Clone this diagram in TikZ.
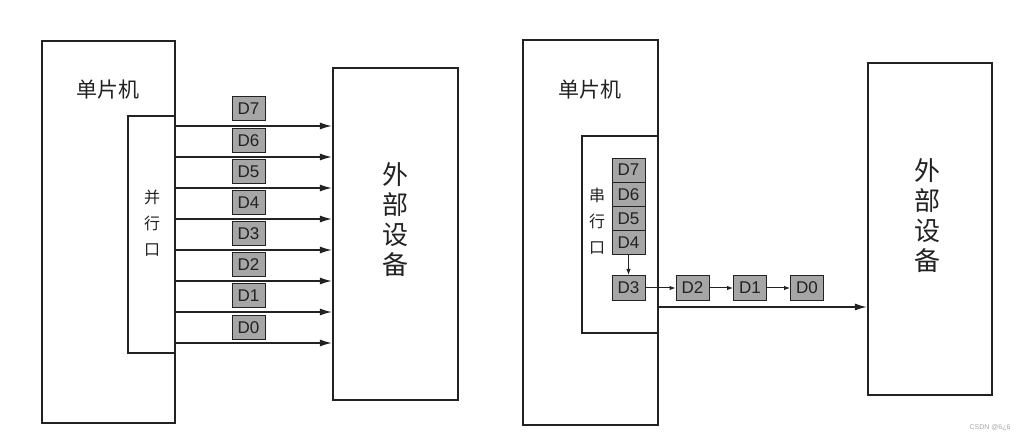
\documentclass[tikz,border=0pt]{standalone}
\usepackage{fontspec}
\setmainfont{Liberation Sans}
\newfontfamily\cjk{Noto Sans CJK SC}
\usetikzlibrary{arrows.meta}
\definecolor{ink}{HTML}{222222}
\definecolor{lblfill}{HTML}{A6A6A6}
\tikzset{
  bigbox/.style={draw=ink, line width=2.2pt, inner sep=0pt},
  portbox/.style={draw=ink, line width=1.2pt, inner sep=0pt},
  lbl/.style={draw=ink, line width=1pt, fill=lblfill, inner sep=0pt,
    minimum width=33pt, minimum height=24pt, font=\fontsize{17}{17}\selectfont, text=ink},
  arr/.style={draw=ink, line width=1.3pt, -{Latex[length=12pt,width=7pt]}},
  sarr/.style={draw=ink, line width=1pt, -{Latex[length=6pt,width=4.5pt]}},
  cjktxt/.style={font=\cjk\fontsize{21}{21}\selectfont, text=ink, inner sep=0pt},
  porttxt/.style={font=\cjk\fontsize{16}{26}\selectfont, text=ink, align=center, inner sep=0pt},
  devtxt/.style={font=\cjk\fontsize{26}{30}\selectfont, text=ink, align=center, inner sep=0pt},
}
\begin{document}
\begin{tikzpicture}[x=1pt,y=-1pt]
\useasboundingbox (0,0) rectangle (1028,443);
% ---------- left: parallel ----------
\node[bigbox, minimum width=133pt, minimum height=382pt] (mcuL) at (108.5,232) {};
\node[portbox, minimum width=47pt, minimum height=237pt] (portL) at (151.5,234.5) {};
\node[bigbox, minimum width=125pt, minimum height=332pt] (devL) at (395.5,234) {};
\node[cjktxt] (mcuLt) at (108,90) {单片机};
\node[porttxt] (portLt) at (152,223) {并\\行\\口};
\node[devtxt] (devLt) at (395,220) {外\\部\\设\\备};
\foreach \n/\ly/\y in {7/109/126, 6/141/157, 5/172/188, 4/203/219, 3/234/250, 2/265/281, 1/296/312, 0/328/343}{
  \node[lbl] (pl\n) at (248.5,\ly) {D\n};
  \draw[arr] (portL.east |- 0,\y) -- (devL.west |- 0,\y);
}
% ---------- right: serial ----------
\node[bigbox, minimum width=135pt, minimum height=385pt] (mcuR) at (590.5,232.5) {};
\node[portbox, minimum width=76pt, minimum height=197pt] (portR) at (620,234.5) {};
\node[bigbox, minimum width=124pt, minimum height=332pt] (devR) at (930,229) {};
\node[cjktxt] (mcuRt) at (590,90) {单片机};
\node[porttxt] (portRt) at (597,221) {串\\行\\口};
\node[devtxt] (devRt) at (927,216) {外\\部\\设\\备};
\node[lbl] (s7) at (628.5,170.1) {D7};
\node[lbl] (s6) at (628.5,194.4) {D6};
\node[lbl] (s5) at (628.5,218.6) {D5};
\node[lbl] (s4) at (628.5,242.9) {D4};
\node[lbl, minimum height=25pt] (s3) at (628.5,288) {D3};
\node[lbl, minimum height=25pt] (s2) at (692.5,288) {D2};
\node[lbl, minimum height=25pt] (s1) at (750,288) {D1};
\node[lbl, minimum height=25pt] (s0) at (807,288) {D0};
\draw[sarr] (s4) -- (s3);
\draw[sarr] (s3) -- (s2);
\draw[sarr] (s2) -- (s1);
\draw[sarr] (s1) -- (s0);
\draw[arr] (portR.east |- 0,307) -- (devR.west |- 0,307);
% watermark
\node[font=\fontsize{7}{7}\selectfont, text=gray!70, inner sep=0pt] (wm) at (990,428) {CSDN @6¿6};
\end{tikzpicture}
\end{document}
